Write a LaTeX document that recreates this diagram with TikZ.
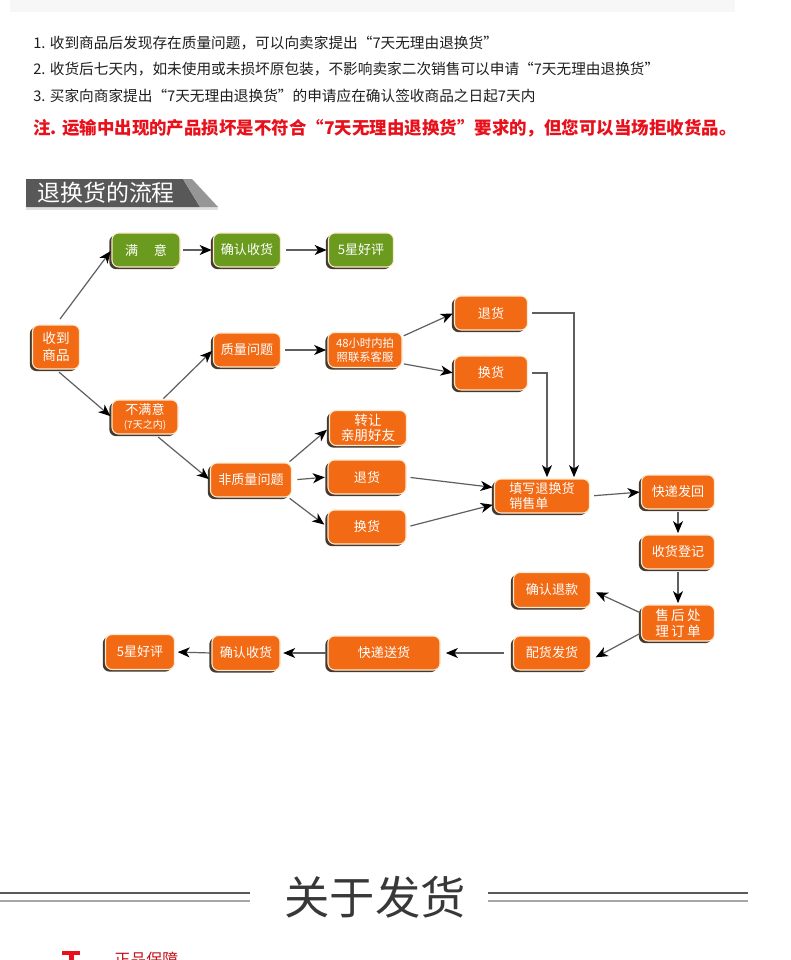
\documentclass[tikz,border=0pt]{standalone}
\usepackage{fontspec}
\newfontfamily\cjk{Noto Sans CJK SC}
\usetikzlibrary{arrows.meta,shadows,calc}
\definecolor{orng}{RGB}{242,106,20}
\definecolor{grn}{RGB}{107,155,30}
\definecolor{shadowc}{RGB}{70,58,45}
\definecolor{cream}{RGB}{255,232,205}
\definecolor{linec}{RGB}{95,95,95}
\definecolor{redt}{RGB}{232,16,26}
\definecolor{titleg}{RGB}{88,88,88}
\definecolor{titlel}{RGB}{150,150,150}
\definecolor{hdrc}{RGB}{30,30,30}
\begin{document}
\begin{tikzpicture}[x=0.75pt,y=-0.75pt,
  basebox/.style={rounded corners=5pt, draw=cream, line width=0.8pt, text=white,
    align=center, inner sep=1pt,
    font=\cjk\fontsize{9.8}{11.2}\selectfont,
    drop shadow={shadow xshift=-2pt, shadow yshift=-1.6pt, fill=shadowc, opacity=1}},
  obox/.style={basebox, fill=orng},
  gbox/.style={basebox, fill=grn},
  wh/.style 2 args={minimum width=#1*0.75pt, minimum height=#2*0.75pt},
  arr/.style={draw=linec, line width=0.9pt,
    -{Stealth[length=9pt,width=7.5pt,inset=2.6pt,color=black]}},
  hdr/.style={anchor=west, inner sep=0pt, text=hdrc, font=\cjk\fontsize{11}{12.5}\selectfont}
]
\useasboundingbox (0,0) rectangle (790,960);
\clip (0,0) rectangle (790,960);
\fill[white] (0,0) rectangle (790,960);
% top light band
\fill[gray!6] (10,0) rectangle (735,12);

% header text
\node[hdr] (l1) at (33,43) {1. 收到商品后发现存在质量问题，可以向卖家提出“7天无理由退换货”};
\node[hdr] (l2) at (33,69) {2. 收货后七天内，如未使用或未损坏原包装，不影响卖家二次销售可以申请“7天无理由退换货”};
\node[hdr] (l3) at (33,96) {3. 买家向商家提出“7天无理由退换货”的申请应在确认签收商品之日起7天内};
\node[hdr, text=redt, font=\cjk\bfseries\fontsize{13.1}{15}\selectfont] (l4) at (33,128) {注. 运输中出现的产品损坏是不符合“7天无理由退换货”要求的，但您可以当场拒收货品。};

% title box
\fill[gray!25] (26,207) rectangle (218,210);
\fill[titleg] (26,179) -- (183,179) -- (200,207) -- (26,207) -- cycle;
\fill[titlel] (183,179) -- (192,179) -- (218,207) -- (200,207) -- cycle;
\node[anchor=west, inner sep=0pt, text=white, font=\cjk\fontsize{17.2}{19}\selectfont] (title) at (37,193) {退换货的流程};

% nodes
\node[gbox, wh={68}{34}] (manyi) at (146,250) {满\hspace{1.2em}意};
\node[gbox, wh={67}{34}] (qr1) at (247,250) {确认收货};
\node[gbox, wh={65}{34}] (hp1) at (361,250) {5星好评};
\node[obox, wh={47}{44}, font=\cjk\fontsize{10.2}{13}\selectfont] (shou) at (56,347) {收到\\商品};
\node[obox, wh={66}{34}] (bmy) at (145,417) {不满意\\[-1pt]{\fontsize{7.5}{8}\selectfont(7天之内)}};
\node[obox, wh={67}{34}] (zl) at (247,350) {质量问题};
\node[obox, wh={74}{35}, font=\cjk\fontsize{8.5}{10.5}\selectfont] (h48) at (365,350) {48小时内拍\\照联系客服};
\node[obox, wh={73}{34}] (th1) at (491,313) {退货};
\node[obox, wh={73}{34}] (hh1) at (491,373) {换货};
\node[obox, wh={77}{35}, font=\cjk\fontsize{10.2}{11.5}\selectfont] (zr) at (368,428) {转让\\亲朋好友};
\node[obox, wh={78}{34}] (th2) at (367,477) {退货};
\node[obox, wh={78}{34}] (hh2) at (367,527) {换货};
\node[obox, wh={81}{34}] (fz) at (251,480) {非质量问题};
\node[obox, wh={95}{34}, align=left] (tx) at (542,496) {填写退换货\\销售单};
\node[obox, wh={73}{34}] (kd) at (678,492) {快递发回};
\node[obox, wh={73}{34}] (sh) at (678,552) {收货登记};
\node[obox, wh={73}{36}, font=\cjk\fontsize{10.2}{12}\selectfont] (shh) at (678,623) {售\,后\,处\\理\,订\,单};
\node[obox, wh={77}{35}] (qk) at (552,590) {确认退款};
\node[obox, wh={77}{34}] (ph) at (552,653) {配货发货};
\node[obox, wh={112}{34}] (ks) at (384,653) {快递送货};
\node[obox, wh={68}{35}] (qr2) at (246,653) {确认收货};
\node[obox, wh={69}{35}] (hp2) at (140,652) {5星好评};

% connectors
\draw[arr, shorten <=5pt, shorten >=1pt] (shou.north) -- (manyi.west);
\draw[arr, shorten <=3pt, shorten >=1pt] (shou.south) -- (bmy.west);
\draw[arr, shorten <=2pt, shorten >=1pt] (manyi.east) -- (qr1.west);
\draw[arr, shorten <=4pt, shorten >=1pt] (qr1.east) -- (hp1.west);
\draw[arr, shorten <=1pt, shorten >=1pt] (bmy.45) -- (zl.west);
\draw[arr, shorten <=3pt, shorten >=1pt] (bmy.-60) -- (fz.west);
\draw[arr, shorten <=3pt, shorten >=1pt] (zl.east) -- (h48.west);
\draw[arr, shorten <=1pt, shorten >=1pt] (h48.20) -- (th1.west);
\draw[arr, shorten <=1pt, shorten >=1pt] (h48.-20) -- (hh1.west);
\draw[arr, shorten <=1pt, shorten >=2pt] (fz.25) -- (zr.west);
\draw[arr, shorten <=4pt, shorten >=2pt] (fz.east) -- (th2.west);
\draw[arr, shorten <=1pt, shorten >=3pt] (fz.-25) -- (hh2.west);
\draw[arr, shorten <=3pt, shorten >=1pt] (th2.east) -- (tx.170);
\draw[arr, shorten <=3pt, shorten >=1pt] (hh2.east) -- (tx.190);
\draw[arr, shorten <=3pt, shorten >=1pt] (th1.east) -| ([xshift=24pt]tx.north);
\draw[arr, shorten <=3pt, shorten >=1pt] (hh1.east) -| ([xshift=3.75pt]tx.north);
\draw[arr, shorten <=3pt, shorten >=1pt] (tx.east) -- (kd.west);
\draw[arr, shorten <=2pt, shorten >=1pt] (kd.south) -- (sh.north);
\draw[arr, shorten <=2pt, shorten >=1pt] (sh.south) -- (shh.north);
\draw[arr, shorten <=1pt, shorten >=4pt] (shh.165) -- (qk.east);
\draw[arr, shorten <=1pt, shorten >=4pt] (shh.195) -- (ph.-10);
\draw[arr, shorten <=7pt, shorten >=4pt] (ph.west) -- (ks.east);
\draw[arr, shorten <=1pt, shorten >=2pt] (ks.west) -- (qr2.east);
\draw[arr, shorten <=1pt, shorten >=2pt] (qr2.west) -- (hp2.east);

% bottom heading
\draw[line width=1.6pt, black!65] (0,893) -- (250,893);
\draw[line width=1.4pt, black!35] (0,901) -- (250,901);
\draw[line width=1.6pt, black!65] (488,893) -- (748,893);
\draw[line width=1.4pt, black!35] (488,901) -- (748,901);
\node[inner sep=0pt, text=black!78, font=\cjk\fontsize{34}{36}\selectfont] (about) at (375,897) {关于发货};

% cut-off bottom item (cut by the picture's lower edge, as in the reference)
\fill[redt] (62,951) rectangle (80,955);
\fill[redt] (69,953) rectangle (74,962);
\node[anchor=north west, inner sep=0pt, text=redt!85!black, font=\cjk\fontsize{12}{14}\selectfont] (zp) at (114,952) {正品保障};
\end{tikzpicture}
\end{document}
